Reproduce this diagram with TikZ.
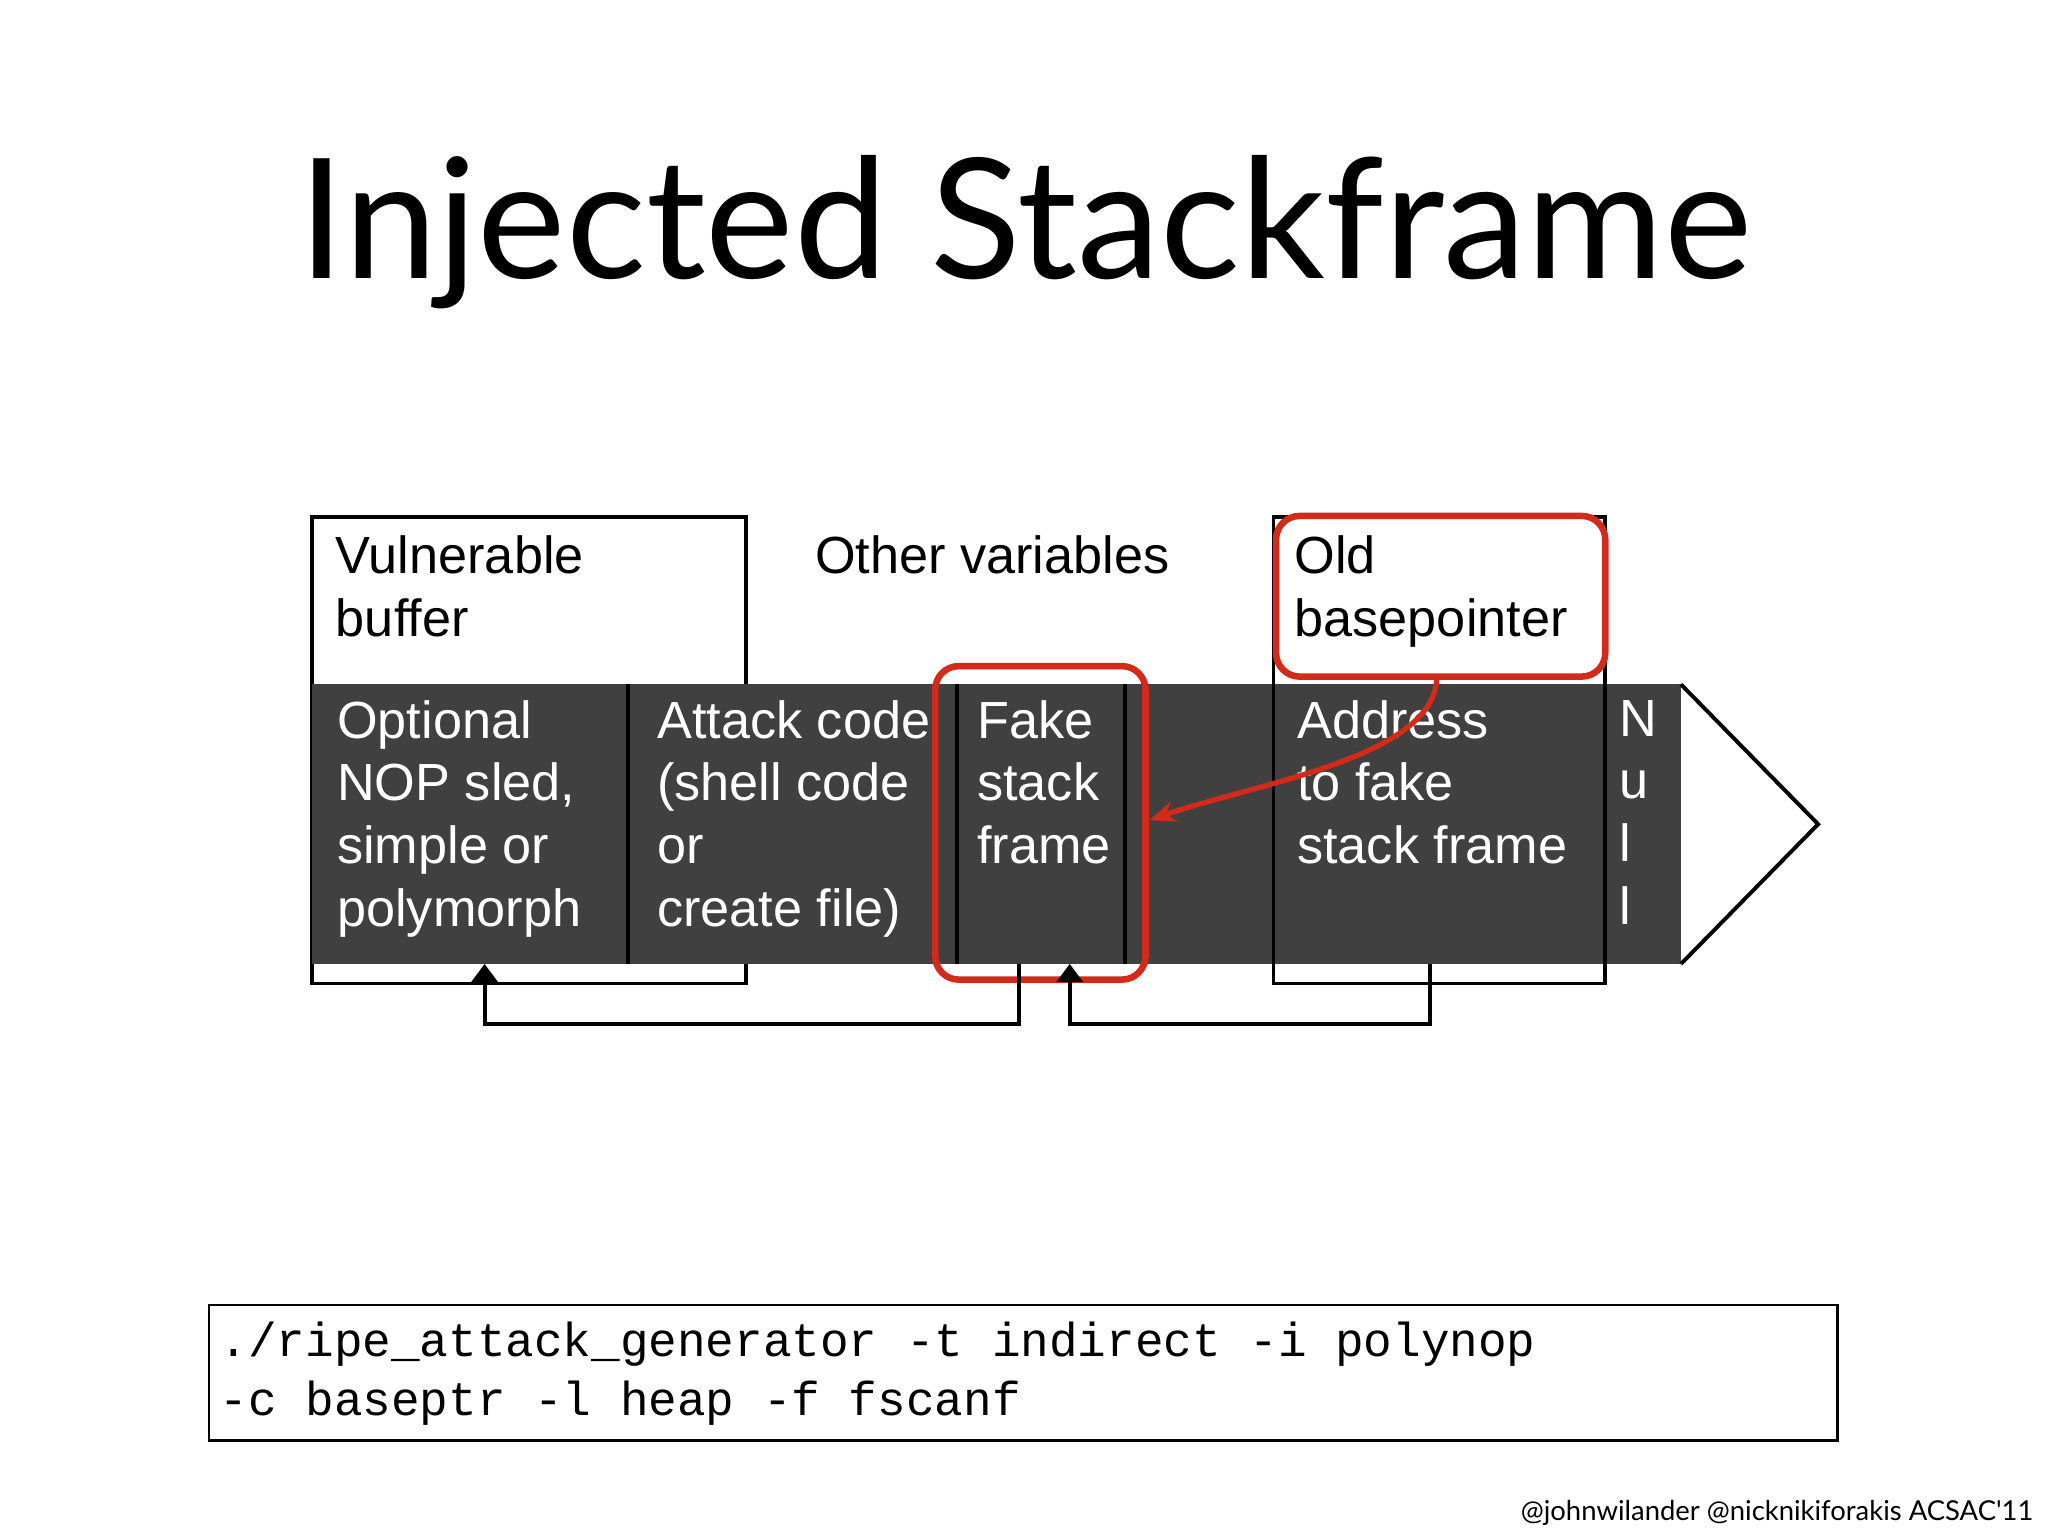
\documentclass[tikz,border=0pt]{standalone}
\usepackage{fontspec}
\setmainfont{Liberation Sans}
\newfontfamily\titlefont{Lato}
\newfontfamily\monofont{Liberation Mono}
\usetikzlibrary{arrows.meta}
\definecolor{band}{HTML}{404040}
\definecolor{hl}{HTML}{D42A1A}
\begin{document}
\begin{tikzpicture}[x=1pt,y=-1pt,
  wtxt/.style={text=white,anchor=north west,align=left,inner sep=0,font=\fontsize{40}{48}\selectfont},
  btxt/.style={text=black,anchor=north west,align=left,inner sep=0,font=\fontsize{40}{48}\selectfont},
  box/.style={draw=black,line width=3pt},
  hlbox/.style={draw=hl,line width=5pt,rounded corners=18pt},
  conn/.style={draw=black,line width=3pt,-{Triangle[length=14pt,width=20pt]}}]
\useasboundingbox (0,0) rectangle (1568,1176);
\fill[white] (0,0) rectangle (1568,1176);
\node[font=\titlefont\fontsize{128}{130}\selectfont] (title) at (785,178) {Injected Stackframe};
\draw[box,fill=white] (239,396) rectangle (571,753);
\draw[box,fill=white] (975,396) rectangle (1229,753);
\fill[band] (239,524) rectangle (1287,738);
\draw[box,fill=white] (1287,524) -- (1392,631) -- (1287,738);
\draw[box] (481,524) -- (481,738) (733,524) -- (733,738) (861,524) -- (861,738) (975,524) -- (975,738) (1229,524) -- (1229,738);
\node[btxt] (vb) at (257,410) {Vulnerable\\buffer};
\node[btxt] (ov) at (624,410) {Other variables};
\node[btxt] (ob) at (991,410) {Old\\basepointer};
\node[wtxt] (nop) at (258,536) {Optional\\NOP sled,\\simple or\\polymorph};
\node[wtxt] (ac) at (503,536) {Attack code\\(shell code\\ or\\ create file)};
\node[wtxt] (fs) at (748,536) {Fake\\stack\\frame};
\node[wtxt] (ad) at (993,536) {Address\\to fake\\stack frame};
\node[wtxt] (nu) at (1240,536) {N\\u\\l\\l};
\draw[hlbox] (716,510) rectangle (877,750);
\draw[hlbox] (977,395) rectangle (1229,518);
\coordinate (rs) at (1100,518);
\coordinate (re) at (880,628);
\draw[hl,line width=4pt,-{Stealth[length=20pt,width=16pt]}] (rs) .. controls (1100,580) and (960,600) .. (re);
\coordinate (c1) at (780,738);
\coordinate (t1) at (371,738);
\coordinate (c2) at (1095,738);
\coordinate (t2) at (819,738);
\draw[conn] (c1) -- (780,784) -- (371,784) -- (t1);
\draw[conn] (c2) -- (1095,784) -- (819,784) -- (t2);
\draw[line width=2pt] (160,999) rectangle (1407,1103);
\node[anchor=north west,inner sep=0,align=left,font=\monofont\fontsize{36.5}{45}\selectfont] (cmd) at (168,1012) {./ripe\_attack\_generator -t indirect -i polynop\\-c baseptr -l heap -f fscanf};
\node[anchor=east,inner sep=0,font=\titlefont\fontsize{21}{24}\selectfont] (foot) at (1557,1158) {@johnwilander @nicknikiforakis ACSAC'11};
\end{tikzpicture}
\end{document}
